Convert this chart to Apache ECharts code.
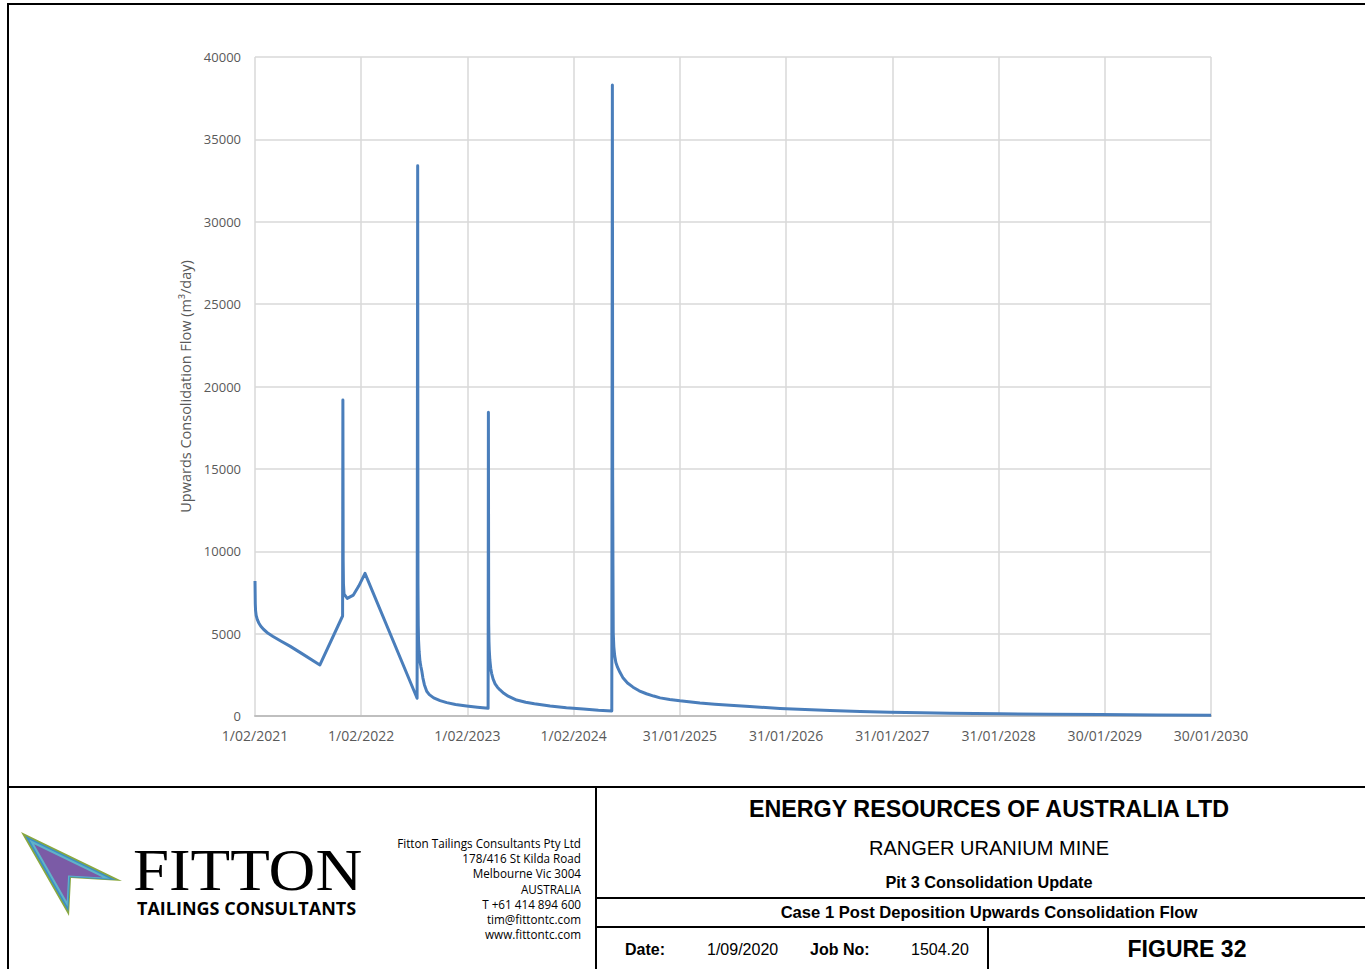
<!DOCTYPE html>
<html>
<head>
<meta charset="utf-8">
<script src="https://cdn.jsdelivr.net/npm/echarts@6/dist/echarts.min.js"></script>
<style>
  html, body { margin: 0; padding: 0; background: #fff; }
  #chart { width: 1365px; height: 969px; }
</style>
</head>
<body>
<div id="chart"></div>
<script>
// days since 1/02/2021 and the upward consolidation flow (m3/day)
const days = [0, 1, 2, 4, 8, 13, 20, 30, 45, 62, 90, 120, 160, 223,
  301, 302, 303, 304, 306, 317, 338, 357, 378,
  557, 559, 560, 561, 562, 564, 567, 570, 573, 577, 582, 590, 599, 614, 636, 659, 689, 727, 764, 801,
  802, 803, 804, 805, 807, 810, 813, 818, 825, 833, 842, 855, 870, 899, 930, 960, 1014, 1070, 1128, 1180, 1226,
  1228, 1229, 1230, 1231, 1233, 1236, 1240, 1246, 1254, 1265, 1280, 1299, 1320, 1345, 1370, 1392, 1425, 1460,
  1529, 1580, 1632, 1700, 1804, 1890, 1976, 2080, 2182, 2290, 2388, 2560, 2730, 2904, 3100, 3285];
const flow = [8200, 6800, 6400, 6100, 5850, 5650, 5450, 5250, 5020, 4830, 4540, 4240, 3800, 3100,
  6070, 19180, 9470, 8000, 7400, 7140, 7340, 7900, 8660,
  1075, 33400, 8000, 5500, 4600, 3900, 3300, 3000, 2750, 2300, 1900, 1500, 1300, 1100, 930, 810, 700, 607, 530, 467,
  18430, 5640, 4500, 4000, 3400, 2900, 2590, 2250, 1950, 1750, 1580, 1380, 1200, 970, 830, 740, 607, 500, 425, 350, 303,
  38300, 14500, 9100, 5040, 4200, 3650, 3250, 2950, 2650, 2300, 2000, 1750, 1530, 1350, 1210, 1100, 1000, 920,
  790, 720, 650, 570, 460, 400, 340, 280, 230, 195, 170, 130, 105, 85, 65, 50];

const xMin = 0, xMax = 3285, xStep = 365;   // ticks every 365 days
const yMin = 0, yMax = 40000, yStep = 5000;
const startDate = Date.UTC(2021, 1, 1);

const addressLines = [
  'Fitton Tailings Consultants Pty Ltd',
  '178/416 St Kilda Road',
  'Melbourne Vic 3004',
  'AUSTRALIA',
  'T +61 414 894 600',
  'tim@fittontc.com',
  'www.fittontc.com'
];

function dateLabel(v) {
  const d = new Date(startDate + v * 86400000);
  const mm = String(d.getUTCMonth() + 1).padStart(2, '0');
  return d.getUTCDate() + '/' + mm + '/' + d.getUTCFullYear();
}

const chart = echarts.init(document.getElementById('chart'), null, { renderer: 'svg' });

const seriesData = days.map((d, i) => [d, flow[i]]);

// frame, logo and title block
const black = '#000';
const hLine = (x1, x2, y) => ({ type: 'line', shape: { x1, y1: y, x2, y2: y }, style: { stroke: black, lineWidth: 2 } });
const vLine = (x, y1, y2) => ({ type: 'line', shape: { x1: x, y1, x2: x, y2 }, style: { stroke: black, lineWidth: 2 } });
const txt = (text, x, y, font, align) => ({
  type: 'text',
  style: { text, x, y, font, fill: '#000', align: align || 'center', verticalAlign: 'middle' }
});

// arrow logo, nested layers shrinking toward a centre point
const arrowPts = [[21, 832], [122, 881], [71, 878], [69, 916]];
const arrowCentre = [62, 870];
const arrowLayers = [
  { k: 1.0, c: '#8aa83f' },
  { k: 0.9, c: '#3d8fc4' },
  { k: 0.8, c: '#5fb3c9' },
  { k: 0.68, c: '#7b5ba6' }
];
const logo = arrowLayers.map(l => ({
  type: 'polygon',
  shape: {
    points: arrowPts.map(p => [
      arrowCentre[0] + (p[0] - arrowCentre[0]) * l.k,
      arrowCentre[1] + (p[1] - arrowCentre[1]) * l.k
    ])
  },
  style: { fill: l.c }
}));

const graphics = [
  { type: 'rect', shape: { x: 8, y: 4, width: 1500, height: 1100 }, style: { fill: 'none', stroke: black, lineWidth: 2 } },
  hLine(8, 1400, 787),
  vLine(596, 787, 1000),
  hLine(596, 1400, 898),
  hLine(596, 1400, 927),
  vLine(988, 927, 1000),
  ...logo,
  {
    type: 'text', x: 133, y: 870, scaleX: 1.08, originX: 0, originY: 0,
    style: { text: 'FITTON', x: 0, y: 0, font: '60px "Liberation Serif"', fill: '#000', align: 'left', verticalAlign: 'middle' }
  },
  txt('TAILINGS CONSULTANTS', 137, 908, 'bold 18px "Open Sans"', 'left'),
  ...addressLines.map((s, i) => txt(s, 581, 843 + i * 15.2, '11.7px "Open Sans"', 'right')),
  txt('ENERGY RESOURCES OF AUSTRALIA LTD', 989, 809, 'bold 23.3px "Liberation Sans"'),
  txt('RANGER URANIUM MINE', 989, 848, '20px "Liberation Sans"'),
  txt('Pit 3 Consolidation Update', 989, 882, 'bold 16.3px "Liberation Sans"'),
  txt('Case 1 Post Deposition Upwards Consolidation Flow', 989, 912, 'bold 16.6px "Liberation Sans"'),
  txt('Date:', 625, 949, 'bold 16px "Liberation Sans"', 'left'),
  txt('1/09/2020', 707, 949, '16px "Liberation Sans"', 'left'),
  txt('Job No:', 810, 949, 'bold 16px "Liberation Sans"', 'left'),
  txt('1504.20', 911, 949, '16px "Liberation Sans"', 'left'),
  txt('FIGURE 32', 1187, 949, 'bold 23px "Liberation Sans"')
];

const option = {
  animation: false,
  backgroundColor: '#fff',
  grid: { left: 255, top: 57, width: 956, height: 659, containLabel: false },
  xAxis: {
    type: 'value',
    min: xMin,
    max: xMax,
    interval: xStep,
    axisLine: { show: true, lineStyle: { color: '#bfbfbf', width: 2 } },
    axisTick: { show: false },
    splitLine: { show: true, lineStyle: { color: '#d9d9d9', width: 1.5 } },
    axisLabel: {
      color: '#595959', fontSize: 14, fontFamily: 'Open Sans', margin: 12,
      formatter: dateLabel
    }
  },
  yAxis: {
    type: 'value',
    min: yMin,
    max: yMax,
    interval: yStep,
    name: 'Upwards Consolidation Flow (m³/day)',
    nameLocation: 'middle',
    nameGap: 58,
    nameTextStyle: { color: '#595959', fontSize: 14.5, fontFamily: 'Open Sans' },
    axisLine: { show: false },
    axisTick: { show: false },
    splitLine: { show: true, lineStyle: { color: '#d9d9d9', width: 1.5 } },
    axisLabel: { color: '#595959', fontSize: 13, fontFamily: 'Open Sans', margin: 14, formatter: v => String(v) }
  },
  series: [{
    type: 'line',
    data: seriesData,
    showSymbol: false,
    symbol: 'none',
    lineStyle: { color: '#4a7ebb', width: 3, join: 'round' },
    z: 3
  }],
  graphic: graphics
};

chart.setOption(option);
</script>
</body>
</html>
